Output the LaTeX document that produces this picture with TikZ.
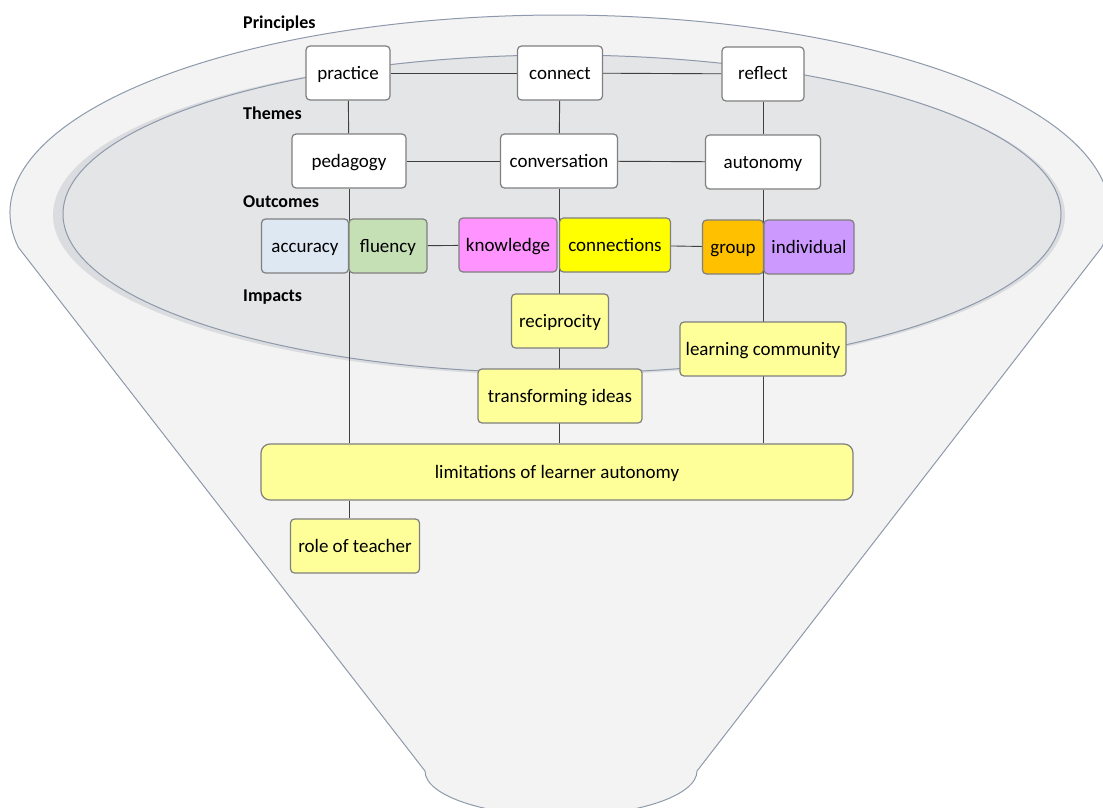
\documentclass[tikz,border=0pt]{standalone}
\usepackage{fontspec}
\setmainfont{Carlito}
\usetikzlibrary{calc}
\pgfdeclarelayer{back}
\pgfdeclarelayer{lines}
\pgfsetlayers{back,lines,main}
\definecolor{funfill}{HTML}{F3F3F3}
\definecolor{funline}{HTML}{8E99AB}
\definecolor{infill}{HTML}{E4E5E7}
\definecolor{inshadow}{HTML}{DADCDF}
\definecolor{boxline}{HTML}{7F7F7F}
\definecolor{connline}{HTML}{404040}
\definecolor{cAcc}{HTML}{DEE8F3}
\definecolor{cFlu}{HTML}{C5E0B4}
\definecolor{cKno}{HTML}{FF93FF}
\definecolor{cCon}{HTML}{FFFF00}
\definecolor{cGro}{HTML}{FFC000}
\definecolor{cInd}{HTML}{CC99FF}
\definecolor{cYel}{HTML}{FFFF99}
\tikzset{
  box/.style={draw=boxline, line width=1.2pt, rounded corners=4pt, fill=white,
    minimum height=54pt, inner sep=0pt, text height=15pt, text depth=3pt,
    font=\fontsize{19}{22}\selectfont, text=black},
  hdr/.style={anchor=west, inner sep=0pt, font=\fontsize{18}{21}\selectfont\bfseries},
  conn/.style={draw=connline, line width=0.9pt},
}
\begin{document}
\begin{tikzpicture}[x=1pt,y=-1pt]
\useasboundingbox (0,0) rectangle (1103,808);
\clip (0,0) rectangle (1103,808);
% nodes
\node[hdr] (hPrin) at (243,24) {Principles};
\node[hdr] (hThem) at (243,113) {Themes};
\node[hdr] (hOut) at (243,202) {Outcomes};
\node[hdr] (hImp) at (243,297) {Impacts};

\node[box, minimum width=84pt] (practice) at (348,73) {practice};
\node[box, minimum width=85pt] (connect) at (560,73) {connect};
\node[box, minimum width=82pt] (reflect) at (763,74) {reflect};

\node[box, minimum width=114pt] (pedagogy) at (349,161) {pedagogy};
\node[box, minimum width=117pt] (conversation) at (559,161) {conversation};
\node[box, minimum width=115pt] (autonomy) at (763,162) {autonomy};

\node[box, fill=cAcc, minimum width=87pt] (accuracy) at (305,246) {accuracy};
\node[box, fill=cFlu, minimum width=78pt] (fluency) at (388,246) {fluency};
\node[box, fill=cKno, minimum width=98pt] (knowledge) at (508,245) {knowledge};
\node[box, fill=cCon, minimum width=111pt] (connections) at (615,245) {connections};
\node[box, fill=cGro, minimum width=61pt] (group) at (733,247) {group};
\node[box, fill=cInd, minimum width=90pt] (individual) at (809,247) {individual};

\node[box, fill=cYel, minimum width=97pt] (reciprocity) at (560,321) {reciprocity};
\node[box, fill=cYel, minimum width=166pt] (community) at (763,349) {learning community};
\node[box, fill=cYel, minimum width=164pt] (transforming) at (560,396) {transforming ideas};
\node[box, fill=cYel, minimum width=592pt, minimum height=56pt, rounded corners=9pt] (limitations) at (557,472) {limitations of learner autonomy};
\node[box, fill=cYel, minimum width=129pt] (role) at (355,546) {role of teacher};

% connectors
\begin{pgfonlayer}{lines}
\draw[conn] (practice) -- (connect);
\draw[conn] (connect) -- (reflect);
\draw[conn] (practice) -- (pedagogy);
\draw[conn] (connect) -- (conversation);
\draw[conn] (reflect) -- (autonomy);
\draw[conn] (pedagogy) -- (conversation);
\draw[conn] (conversation) -- (autonomy);
\draw[conn] (fluency) -- (knowledge);
\draw[conn] (connections) -- (group);
\draw[conn] (pedagogy.south) -- (pedagogy.south |- limitations.north);
\draw[conn] (conversation.south) -- (conversation.south |- limitations.north);
\draw[conn] (autonomy.south) -- (autonomy.south |- limitations.north);
\draw[conn] (limitations.south -| pedagogy.south) -- (role.north -| pedagogy.south);
\end{pgfonlayer}

% funnel
\begin{pgfonlayer}{back}
\draw[fill=funfill, draw=funline, line width=1pt] (18.4,247.4)
  arc[start angle=170, end angle=370, x radius=550, y radius=198]
  -- (697,771)
  arc[start angle=0, end angle=180, x radius=136, y radius=45]
  -- cycle;
\fill[inshadow] (559,215) ellipse[x radius=506, y radius=160];
\draw[fill=infill, draw=funline, line width=1pt] (562,214) ellipse[x radius=499, y radius=159];
\end{pgfonlayer}
\end{tikzpicture}
\end{document}
